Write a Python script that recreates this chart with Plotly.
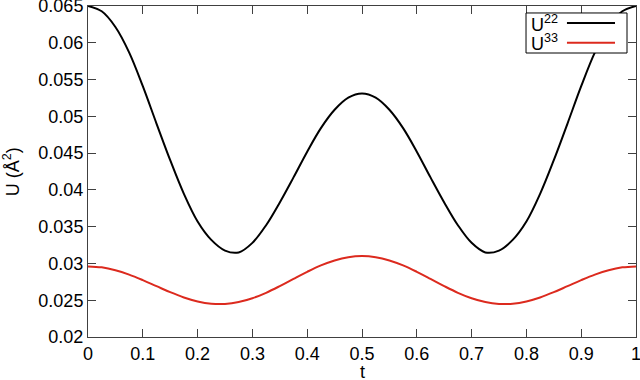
import plotly.graph_objects as go

# ---- data ----
t = [0, 0.025, 0.05, 0.075, 0.1, 0.125, 0.15, 0.175, 0.2, 0.225, 0.25,
     0.275, 0.3, 0.325, 0.35, 0.375, 0.4, 0.425, 0.45, 0.475, 0.5,
     0.525, 0.55, 0.575, 0.6, 0.625, 0.65, 0.675, 0.7, 0.725, 0.75,
     0.775, 0.8, 0.825, 0.85, 0.875, 0.9, 0.925, 0.95, 0.975, 1.0]

u22 = [0.06500, 0.06428, 0.06215, 0.05870, 0.05410, 0.04902, 0.04404, 0.03946,
       0.03570, 0.03320, 0.03175, 0.03150, 0.03280, 0.03520, 0.03830, 0.04170,
       0.04520, 0.04840, 0.05090, 0.05255, 0.05311,
       0.05255, 0.05090, 0.04840, 0.04520, 0.04170, 0.03830, 0.03520, 0.03280,
       0.03150, 0.03175, 0.03320, 0.03570, 0.03946, 0.04404, 0.04902, 0.05410,
       0.05870, 0.06215, 0.06428, 0.06500]

u33 = [0.02960, 0.02947, 0.02908, 0.02848, 0.02773, 0.02691, 0.02609, 0.02538,
       0.02484, 0.02453, 0.02450, 0.02475, 0.02527, 0.02601, 0.02692, 0.02790,
       0.02886, 0.02973, 0.03041, 0.03085, 0.03100,
       0.03085, 0.03041, 0.02973, 0.02886, 0.02790, 0.02692, 0.02601, 0.02527,
       0.02475, 0.02450, 0.02453, 0.02484, 0.02538, 0.02609, 0.02691, 0.02773,
       0.02848, 0.02908, 0.02947, 0.02960]

x_ticks = [0, 0.1, 0.2, 0.3, 0.4, 0.5, 0.6, 0.7, 0.8, 0.9, 1]
x_tick_labels = ["0", "0.1", "0.2", "0.3", "0.4", "0.5", "0.6", "0.7", "0.8", "0.9", "1"]
y_ticks = [0.02, 0.025, 0.03, 0.035, 0.04, 0.045, 0.05, 0.055, 0.06, 0.065]
y_tick_labels = ["0.02", "0.025", "0.03", "0.035", "0.04", "0.045", "0.05", "0.055", "0.06", "0.065"]

series_names = ["U<sup>22</sup>", "U<sup>33</sup>"]
series_colors = ["#000000", "#dc2a1e"]
x_title = "t"
y_title = "U (Å<sup>2</sup>)"

FONT = "Liberation Sans, Arial, sans-serif"
FS = 18
AXC = "#404040"

fig = go.Figure()
for name, ys, col in zip(series_names, [u22, u33], series_colors):
    fig.add_trace(go.Scatter(x=t, y=ys, mode="lines", name=name,
                             line=dict(color=col, width=2, shape="spline", smoothing=1.0),
                             showlegend=False))

axis_common = dict(showgrid=False, zeroline=False, showline=True, linecolor=AXC,
                   linewidth=1, mirror="ticks", ticks="inside", ticklen=8,
                   tickcolor=AXC, tickwidth=1, automargin=False,
                   ticklabeloverflow="allow",
                   tickfont=dict(family=FONT, size=FS, color="#000"))

fig.update_xaxes(range=[0, 1], tickvals=x_ticks, ticktext=x_tick_labels, **axis_common)
fig.update_yaxes(range=[0.02, 0.065], tickvals=y_ticks, ticktext=y_tick_labels, **axis_common)

# custom legend: text first, then line sample
shapes = [dict(type="rect", xref="paper", yref="paper", x0=0.7993, x1=0.9836,
               y0=0.858, y1=0.9789, line=dict(color="#000", width=1),
               fillcolor="white", layer="above")]
annotations = []
rows = [0.9486, 0.8891]
for name, col, yy in zip(series_names, series_colors, rows):
    shapes.append(dict(type="line", xref="paper", yref="paper", x0=0.874, x1=0.9617,
                       y0=yy, y1=yy, line=dict(color=col, width=2), layer="above"))
    annotations.append(dict(xref="paper", yref="paper", x=0.8047, y=yy, text=name,
                            showarrow=False, xanchor="left", yanchor="middle",
                            font=dict(family=FONT, size=FS, color="#000")))

# axis titles
annotations.append(dict(xref="paper", yref="paper", x=0.5, y=-0.106, text=x_title,
                        showarrow=False, xanchor="center", yanchor="middle",
                        font=dict(family=FONT, size=FS, color="#000")))
annotations.append(dict(xref="paper", yref="paper", x=-0.139, y=0.5, text=y_title,
                        showarrow=False, xanchor="center", yanchor="middle", textangle=-90,
                        font=dict(family=FONT, size=FS, color="#000")))

fig.update_layout(width=640, height=380, margin=dict(l=88, r=4, t=6, b=43, autoexpand=False),
                  paper_bgcolor="white", plot_bgcolor="white",
                  shapes=shapes, annotations=annotations,
                  font=dict(family=FONT, size=FS, color="#000"))

fig.write_html("out.html", config={"displayModeBar": False},
               post_script="document.body.style.margin='0';document.body.style.overflow='hidden';")
